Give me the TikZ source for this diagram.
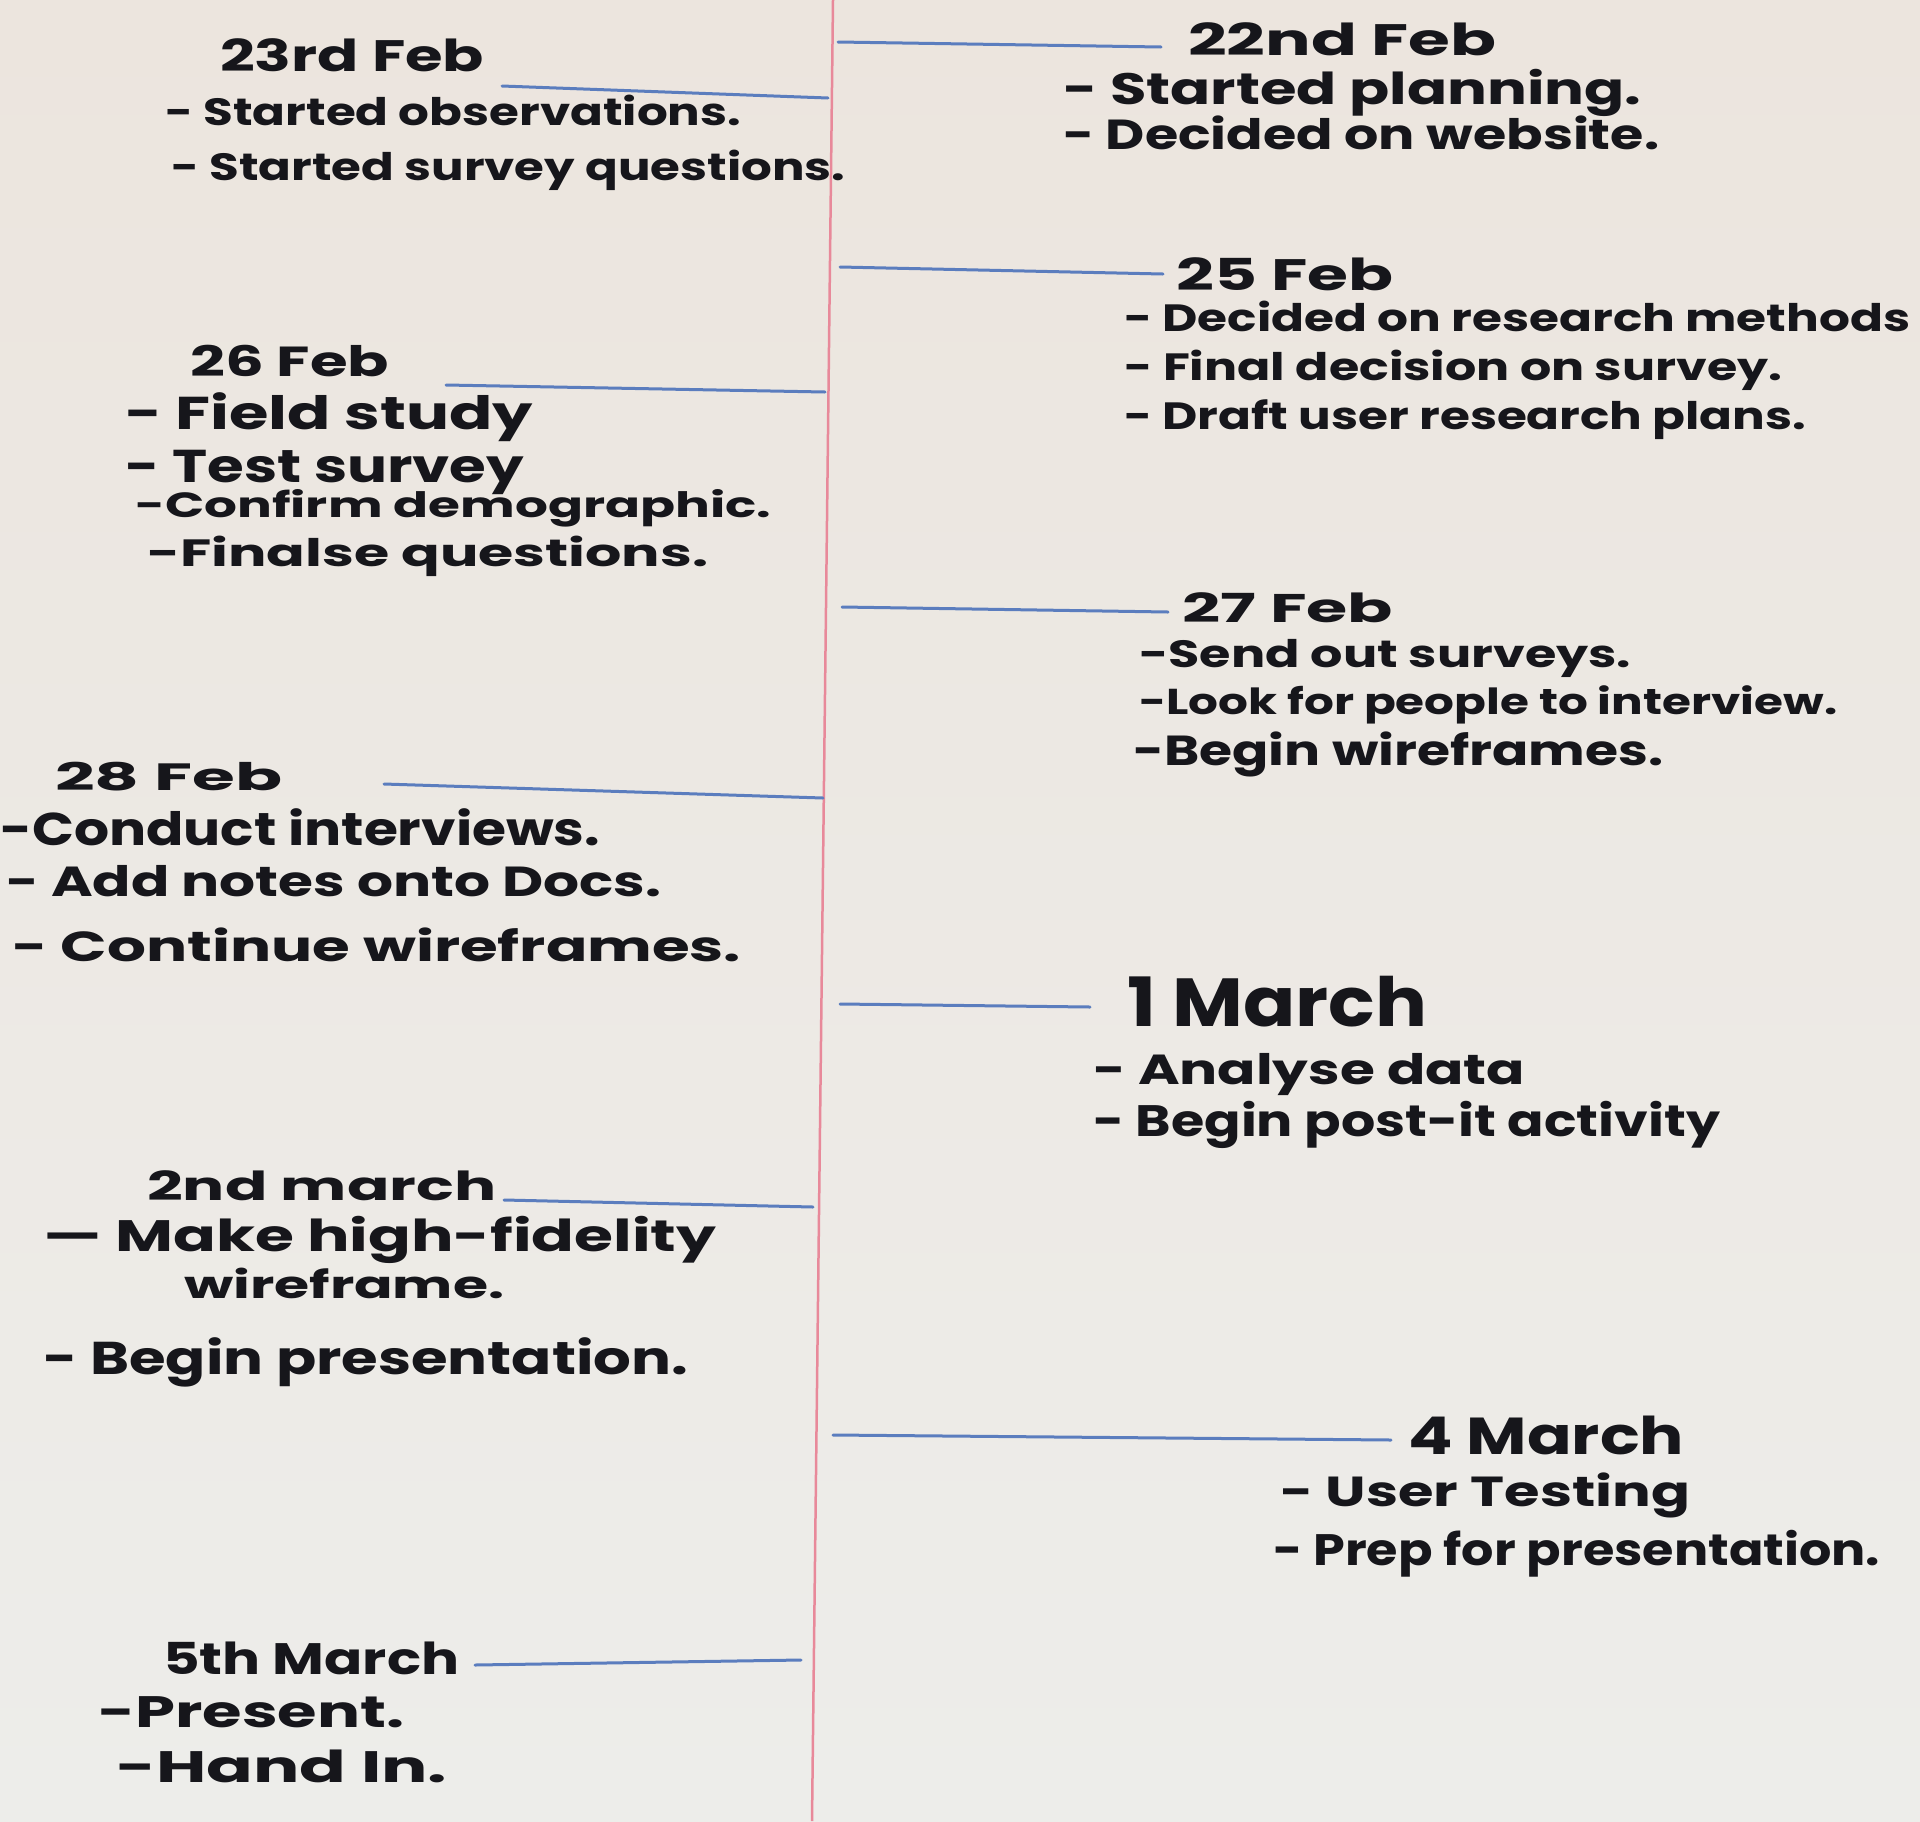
\documentclass[tikz,border=0pt]{standalone}
\usepackage{fontspec}
\setmainfont{Poppins}
\usepackage{graphicx}
\definecolor{ink}{HTML}{16161B}
\definecolor{mblue}{HTML}{5B7DBE}
\definecolor{mred}{HTML}{E8899A}
\definecolor{boardtop}{HTML}{ECE5DE}
\definecolor{boardbot}{HTML}{EDEDEA}
% #1 width (pt), #2 font size (pt), #3 text
\newcommand\hwt[3]{\fontsize{#2pt}{#2pt}\selectfont\resizebox{#1pt}{\height}{#3}}
\begin{document}
\begin{tikzpicture}[x=1pt,y=-1pt,
  hw/.style={anchor=base west, inner sep=0pt, text=ink, font=\bfseries},
  blueline/.style={draw=mblue, line width=3pt, line cap=round},
  redline/.style={draw=mred, line width=2.5pt}]
\useasboundingbox (0,0) rectangle (1920,1821);
\shade[top color=boardtop, bottom color=boardbot] (0,0) rectangle (1920,1821);
% red vertical line
\coordinate (rtop) at (833,0);
\coordinate (rbot) at (812,1821);
\draw[redline] (rtop) -- (rbot);
% blue lines
\coordinate (l1a) at (502,86);   \coordinate (l1b) at (828,98);
\coordinate (r1a) at (838,42);   \coordinate (r1b) at (1161,47);
\coordinate (r2a) at (840,267);  \coordinate (r2b) at (1163,274);
\coordinate (l2a) at (446,385);  \coordinate (l2b) at (825,392);
\coordinate (r3a) at (842,607);  \coordinate (r3b) at (1168,612);
\coordinate (l3a) at (384,784);  \coordinate (l3b) at (823,798);
\coordinate (r4a) at (840,1004); \coordinate (r4b) at (1090,1007);
\coordinate (l4a) at (504,1200); \coordinate (l4b) at (813,1207);
\coordinate (r5a) at (833,1435); \coordinate (r5b) at (1391,1440);
\coordinate (l5a) at (475,1665); \coordinate (l5b) at (801,1660);
\foreach \a/\b in {l1a/l1b,r1a/r1b,r2a/r2b,l2a/l2b,r3a/r3b,l3a/l3b,r4a/r4b,l4a/l4b,r5a/r5b,l5a/l5b}
  \draw[blueline] (\a) -- (\b);
% left column
\node[hw] (t1)  at (220,71)   {\hwt{264}{44}{23rd Feb}};
\node[hw] (t2)  at (165,125)  {\hwt{576}{38}{- Started observations.}};
\node[hw] (t3)  at (171,180)  {\hwt{674}{38}{- Started survey questions.}};
\node[hw] (t4)  at (190,376)  {\hwt{199}{42}{26 Feb}};
\node[hw] (t5)  at (125,429)  {\hwt{408}{46}{- Field study}};
\node[hw] (t6)  at (125,482)  {\hwt{399}{46}{- Test survey}};
\node[hw] (t7)  at (135,517)  {\hwt{636}{35}{-Confirm demographic.}};
\node[hw] (t8)  at (147,566)  {\hwt{561}{38}{-Finalse questions.}};
\node[hw] (t9)  at (55,790)   {\hwt{227}{38}{28 Feb}};
\node[hw] (t10) at (0,845)    {\hwt{600}{46}{-Conduct interviews.}};
\node[hw] (t11) at (6,896)    {\hwt{655}{42}{- Add notes onto Docs.}};
\node[hw] (t12) at (12,961)   {\hwt{729}{42}{- Continue wireframes.}};
\node[hw] (t13) at (147,1200) {\hwt{349}{40}{2nd march}};
\node[hw] (t14) at (43,1251)  {\hwt{673}{44}{— Make high-fidelity}};
\node[hw] (t15) at (184,1298) {\hwt{320}{38}{wireframe.}};
\node[hw] (t16) at (43,1374)  {\hwt{645}{46}{- Begin presentation.}};
\node[hw] (t17) at (163,1674) {\hwt{296}{44}{5th March}};
\node[hw] (t18) at (98,1727)  {\hwt{306}{44}{-Present.}};
\node[hw] (t19) at (116,1782) {\hwt{331}{44}{-Hand In.}};
% right column
\node[hw] (t20) at (1188,55)  {\hwt{308}{44}{22nd Feb}};
\node[hw] (t21) at (1063,104) {\hwt{578}{44}{- Started planning.}};
\node[hw] (t22) at (1063,149) {\hwt{596}{42}{- Decided on website.}};
\node[hw] (t23) at (1176,290) {\hwt{217}{44}{25 Feb}};
\node[hw] (t24) at (1124,331) {\hwt{786}{38}{- Decided on research methods}};
\node[hw] (t25) at (1124,380) {\hwt{658}{38}{- Final decision on survey.}};
\node[hw] (t26) at (1124,429) {\hwt{682}{38}{- Draft user research plans.}};
\node[hw] (t27) at (1182,622) {\hwt{211}{40}{27 Feb}};
\node[hw] (t28) at (1139,667) {\hwt{492}{38}{-Send out surveys.}};
\node[hw] (t29) at (1139,714) {\hwt{698}{36}{-Look for people to interview.}};
\node[hw] (t30) at (1133,765) {\hwt{530}{42}{-Begin wireframes.}};
\node[hw] (t31) at (1127,1026) {\hwt{300}{68}{1 March}};
\node[hw] (t32) at (1093,1084) {\hwt{432}{42}{- Analyse data}};
\node[hw] (t33) at (1093,1136) {\hwt{627}{44}{- Begin post-it activity}};
\node[hw] (t34) at (1408,1454) {\hwt{276}{52}{4 March}};
\node[hw] (t35) at (1280,1506) {\hwt{410}{42}{- User Testing}};
\node[hw] (t36) at (1273,1565) {\hwt{607}{44}{- Prep for presentation.}};
\end{tikzpicture}
\end{document}
